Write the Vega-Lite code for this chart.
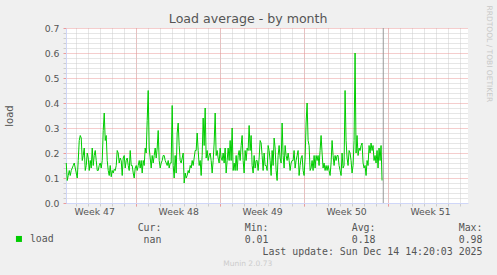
{
  "$schema": "https://vega.github.io/schema/vega-lite/v6.json",
  "width": 402,
  "height": 175,
  "autosize": "none",
  "padding": {"left": 66, "top": 28, "right": 29, "bottom": 72},
  "background": "#f0f0f0",
  "view": {"fill": "#ffffff", "stroke": null},
  "config": {"font": "DejaVu Sans", "axis": {"labelFlush": false, "labelOverlap": false}},
  "title": {"text": "Munin 2.0.73", "orient": "bottom", "anchor": "middle", "frame": "group", "fontSize": 7.5, "color": "#cccccc", "fontWeight": "normal", "font": "DejaVu Sans", "dx": -19.3, "offset": 4},
  "datasets": {
    "loadavg": [
      {"t": "2025-11-18T04:00", "v": 0.16}, {"t": "2025-11-18T06:00", "v": 0.09}, {"t": "2025-11-18T08:00", "v": 0.11}, {"t": "2025-11-18T10:00", "v": 0.13}, {"t": "2025-11-18T12:00", "v": 0.11}, {"t": "2025-11-18T14:00", "v": 0.13}, {"t": "2025-11-18T16:00", "v": 0.14}, {"t": "2025-11-18T18:00", "v": 0.15}, {"t": "2025-11-18T20:00", "v": 0.16}, {"t": "2025-11-18T22:00", "v": 0.14},
      {"t": "2025-11-19T00:00", "v": 0.12}, {"t": "2025-11-19T02:00", "v": 0.10}, {"t": "2025-11-19T04:00", "v": 0.17}, {"t": "2025-11-19T06:00", "v": 0.25}, {"t": "2025-11-19T08:00", "v": 0.27}, {"t": "2025-11-19T10:00", "v": 0.26}, {"t": "2025-11-19T12:00", "v": 0.17}, {"t": "2025-11-19T14:00", "v": 0.19}, {"t": "2025-11-19T16:00", "v": 0.22}, {"t": "2025-11-19T18:00", "v": 0.13}, {"t": "2025-11-19T20:00", "v": 0.15}, {"t": "2025-11-19T22:00", "v": 0.20},
      {"t": "2025-11-20T00:00", "v": 0.18}, {"t": "2025-11-20T02:00", "v": 0.13}, {"t": "2025-11-20T04:00", "v": 0.17}, {"t": "2025-11-20T06:00", "v": 0.14}, {"t": "2025-11-20T08:00", "v": 0.22}, {"t": "2025-11-20T10:00", "v": 0.15}, {"t": "2025-11-20T12:00", "v": 0.19}, {"t": "2025-11-20T14:00", "v": 0.21}, {"t": "2025-11-20T16:00", "v": 0.17}, {"t": "2025-11-20T18:00", "v": 0.13}, {"t": "2025-11-20T20:00", "v": 0.13}, {"t": "2025-11-20T22:00", "v": 0.15},
      {"t": "2025-11-21T00:00", "v": 0.16}, {"t": "2025-11-21T02:00", "v": 0.14}, {"t": "2025-11-21T04:00", "v": 0.17}, {"t": "2025-11-21T06:00", "v": 0.29}, {"t": "2025-11-21T08:00", "v": 0.36}, {"t": "2025-11-21T10:00", "v": 0.25}, {"t": "2025-11-21T12:00", "v": 0.27}, {"t": "2025-11-21T14:00", "v": 0.17}, {"t": "2025-11-21T16:00", "v": 0.13}, {"t": "2025-11-21T18:00", "v": 0.11}, {"t": "2025-11-21T20:00", "v": 0.15}, {"t": "2025-11-21T22:00", "v": 0.105},
      {"t": "2025-11-22T00:00", "v": 0.13}, {"t": "2025-11-22T02:00", "v": 0.12}, {"t": "2025-11-22T04:00", "v": 0.135}, {"t": "2025-11-22T06:00", "v": 0.13}, {"t": "2025-11-22T08:00", "v": 0.15}, {"t": "2025-11-22T10:00", "v": 0.21}, {"t": "2025-11-22T12:00", "v": 0.20}, {"t": "2025-11-22T14:00", "v": 0.16}, {"t": "2025-11-22T16:00", "v": 0.18}, {"t": "2025-11-22T18:00", "v": 0.17}, {"t": "2025-11-22T20:00", "v": 0.11}, {"t": "2025-11-22T22:00", "v": 0.18},
      {"t": "2025-11-23T00:00", "v": 0.19}, {"t": "2025-11-23T02:00", "v": 0.14}, {"t": "2025-11-23T04:00", "v": 0.17}, {"t": "2025-11-23T06:00", "v": 0.18}, {"t": "2025-11-23T08:00", "v": 0.15}, {"t": "2025-11-23T10:00", "v": 0.13}, {"t": "2025-11-23T12:00", "v": 0.21}, {"t": "2025-11-23T14:00", "v": 0.15}, {"t": "2025-11-23T16:00", "v": 0.15}, {"t": "2025-11-23T18:00", "v": 0.12}, {"t": "2025-11-23T20:00", "v": 0.10}, {"t": "2025-11-23T22:00", "v": 0.14},
      {"t": "2025-11-24T00:00", "v": 0.15}, {"t": "2025-11-24T02:00", "v": 0.13}, {"t": "2025-11-24T04:00", "v": 0.15}, {"t": "2025-11-24T06:00", "v": 0.17}, {"t": "2025-11-24T08:00", "v": 0.14}, {"t": "2025-11-24T10:00", "v": 0.17}, {"t": "2025-11-24T12:00", "v": 0.12}, {"t": "2025-11-24T14:00", "v": 0.17}, {"t": "2025-11-24T16:00", "v": 0.15}, {"t": "2025-11-24T18:00", "v": 0.22}, {"t": "2025-11-24T20:00", "v": 0.20}, {"t": "2025-11-24T22:00", "v": 0.33},
      {"t": "2025-11-25T00:00", "v": 0.45}, {"t": "2025-11-25T02:00", "v": 0.22}, {"t": "2025-11-25T04:00", "v": 0.18}, {"t": "2025-11-25T06:00", "v": 0.14}, {"t": "2025-11-25T08:00", "v": 0.19}, {"t": "2025-11-25T10:00", "v": 0.16}, {"t": "2025-11-25T12:00", "v": 0.19}, {"t": "2025-11-25T14:00", "v": 0.22}, {"t": "2025-11-25T16:00", "v": 0.18}, {"t": "2025-11-25T18:00", "v": 0.22}, {"t": "2025-11-25T20:00", "v": 0.29}, {"t": "2025-11-25T22:00", "v": 0.17},
      {"t": "2025-11-26T00:00", "v": 0.14}, {"t": "2025-11-26T02:00", "v": 0.16}, {"t": "2025-11-26T04:00", "v": 0.17}, {"t": "2025-11-26T06:00", "v": 0.19}, {"t": "2025-11-26T08:00", "v": 0.19}, {"t": "2025-11-26T10:00", "v": 0.17}, {"t": "2025-11-26T12:00", "v": 0.16}, {"t": "2025-11-26T14:00", "v": 0.15}, {"t": "2025-11-26T16:00", "v": 0.17}, {"t": "2025-11-26T18:00", "v": 0.14}, {"t": "2025-11-26T20:00", "v": 0.16}, {"t": "2025-11-26T22:00", "v": 0.16},
      {"t": "2025-11-27T00:00", "v": 0.39}, {"t": "2025-11-27T02:00", "v": 0.15}, {"t": "2025-11-27T04:00", "v": 0.10}, {"t": "2025-11-27T06:00", "v": 0.19}, {"t": "2025-11-27T08:00", "v": 0.12}, {"t": "2025-11-27T10:00", "v": 0.28}, {"t": "2025-11-27T12:00", "v": 0.32}, {"t": "2025-11-27T14:00", "v": 0.23}, {"t": "2025-11-27T16:00", "v": 0.17}, {"t": "2025-11-27T18:00", "v": 0.16}, {"t": "2025-11-27T20:00", "v": 0.18}, {"t": "2025-11-27T22:00", "v": 0.20},
      {"t": "2025-11-28T00:00", "v": 0.08}, {"t": "2025-11-28T02:00", "v": 0.12}, {"t": "2025-11-28T04:00", "v": 0.10}, {"t": "2025-11-28T06:00", "v": 0.11}, {"t": "2025-11-28T08:00", "v": 0.13}, {"t": "2025-11-28T10:00", "v": 0.12}, {"t": "2025-11-28T12:00", "v": 0.15}, {"t": "2025-11-28T14:00", "v": 0.14}, {"t": "2025-11-28T16:00", "v": 0.17}, {"t": "2025-11-28T18:00", "v": 0.15}, {"t": "2025-11-28T20:00", "v": 0.18}, {"t": "2025-11-28T22:00", "v": 0.21},
      {"t": "2025-11-29T00:00", "v": 0.21}, {"t": "2025-11-29T02:00", "v": 0.28}, {"t": "2025-11-29T04:00", "v": 0.21}, {"t": "2025-11-29T06:00", "v": 0.15}, {"t": "2025-11-29T08:00", "v": 0.17}, {"t": "2025-11-29T10:00", "v": 0.11}, {"t": "2025-11-29T12:00", "v": 0.19}, {"t": "2025-11-29T14:00", "v": 0.34}, {"t": "2025-11-29T16:00", "v": 0.23}, {"t": "2025-11-29T18:00", "v": 0.38}, {"t": "2025-11-29T20:00", "v": 0.18}, {"t": "2025-11-29T22:00", "v": 0.21},
      {"t": "2025-11-30T00:00", "v": 0.17}, {"t": "2025-11-30T02:00", "v": 0.19}, {"t": "2025-11-30T04:00", "v": 0.20}, {"t": "2025-11-30T06:00", "v": 0.17}, {"t": "2025-11-30T08:00", "v": 0.12}, {"t": "2025-11-30T10:00", "v": 0.17}, {"t": "2025-11-30T12:00", "v": 0.24}, {"t": "2025-11-30T14:00", "v": 0.36}, {"t": "2025-11-30T16:00", "v": 0.19}, {"t": "2025-11-30T18:00", "v": 0.21}, {"t": "2025-11-30T20:00", "v": 0.18}, {"t": "2025-11-30T22:00", "v": 0.16},
      {"t": "2025-12-01T00:00", "v": 0.22}, {"t": "2025-12-01T02:00", "v": 0.18}, {"t": "2025-12-01T04:00", "v": 0.17}, {"t": "2025-12-01T06:00", "v": 0.20}, {"t": "2025-12-01T08:00", "v": 0.16}, {"t": "2025-12-01T10:00", "v": 0.22}, {"t": "2025-12-01T12:00", "v": 0.12}, {"t": "2025-12-01T14:00", "v": 0.17}, {"t": "2025-12-01T16:00", "v": 0.22}, {"t": "2025-12-01T18:00", "v": 0.17}, {"t": "2025-12-01T20:00", "v": 0.25}, {"t": "2025-12-01T22:00", "v": 0.17},
      {"t": "2025-12-02T00:00", "v": 0.30}, {"t": "2025-12-02T02:00", "v": 0.13}, {"t": "2025-12-02T04:00", "v": 0.16}, {"t": "2025-12-02T06:00", "v": 0.13}, {"t": "2025-12-02T08:00", "v": 0.19}, {"t": "2025-12-02T10:00", "v": 0.13}, {"t": "2025-12-02T12:00", "v": 0.19}, {"t": "2025-12-02T14:00", "v": 0.21}, {"t": "2025-12-02T16:00", "v": 0.17}, {"t": "2025-12-02T18:00", "v": 0.23}, {"t": "2025-12-02T20:00", "v": 0.27}, {"t": "2025-12-02T22:00", "v": 0.17},
      {"t": "2025-12-03T00:00", "v": 0.12}, {"t": "2025-12-03T02:00", "v": 0.21}, {"t": "2025-12-03T04:00", "v": 0.17}, {"t": "2025-12-03T06:00", "v": 0.22}, {"t": "2025-12-03T08:00", "v": 0.21}, {"t": "2025-12-03T10:00", "v": 0.31}, {"t": "2025-12-03T12:00", "v": 0.21}, {"t": "2025-12-03T14:00", "v": 0.27}, {"t": "2025-12-03T16:00", "v": 0.15}, {"t": "2025-12-03T18:00", "v": 0.12}, {"t": "2025-12-03T20:00", "v": 0.19}, {"t": "2025-12-03T22:00", "v": 0.14},
      {"t": "2025-12-04T00:00", "v": 0.17}, {"t": "2025-12-04T02:00", "v": 0.17}, {"t": "2025-12-04T04:00", "v": 0.13}, {"t": "2025-12-04T06:00", "v": 0.18}, {"t": "2025-12-04T08:00", "v": 0.25}, {"t": "2025-12-04T10:00", "v": 0.24}, {"t": "2025-12-04T12:00", "v": 0.19}, {"t": "2025-12-04T14:00", "v": 0.13}, {"t": "2025-12-04T16:00", "v": 0.20}, {"t": "2025-12-04T18:00", "v": 0.15}, {"t": "2025-12-04T20:00", "v": 0.15}, {"t": "2025-12-04T22:00", "v": 0.13},
      {"t": "2025-12-05T00:00", "v": 0.23}, {"t": "2025-12-05T02:00", "v": 0.21}, {"t": "2025-12-05T04:00", "v": 0.17}, {"t": "2025-12-05T06:00", "v": 0.11}, {"t": "2025-12-05T08:00", "v": 0.21}, {"t": "2025-12-05T10:00", "v": 0.15}, {"t": "2025-12-05T12:00", "v": 0.26}, {"t": "2025-12-05T14:00", "v": 0.22}, {"t": "2025-12-05T16:00", "v": 0.13}, {"t": "2025-12-05T18:00", "v": 0.09}, {"t": "2025-12-05T20:00", "v": 0.19}, {"t": "2025-12-05T22:00", "v": 0.23},
      {"t": "2025-12-06T00:00", "v": 0.18}, {"t": "2025-12-06T02:00", "v": 0.16}, {"t": "2025-12-06T04:00", "v": 0.32}, {"t": "2025-12-06T06:00", "v": 0.19}, {"t": "2025-12-06T08:00", "v": 0.14}, {"t": "2025-12-06T10:00", "v": 0.23}, {"t": "2025-12-06T12:00", "v": 0.19}, {"t": "2025-12-06T14:00", "v": 0.17}, {"t": "2025-12-06T16:00", "v": 0.20}, {"t": "2025-12-06T18:00", "v": 0.17}, {"t": "2025-12-06T20:00", "v": 0.13}, {"t": "2025-12-06T22:00", "v": 0.16},
      {"t": "2025-12-07T00:00", "v": 0.17}, {"t": "2025-12-07T02:00", "v": 0.17}, {"t": "2025-12-07T04:00", "v": 0.21}, {"t": "2025-12-07T06:00", "v": 0.14}, {"t": "2025-12-07T08:00", "v": 0.17}, {"t": "2025-12-07T10:00", "v": 0.19}, {"t": "2025-12-07T12:00", "v": 0.21}, {"t": "2025-12-07T14:00", "v": 0.11}, {"t": "2025-12-07T16:00", "v": 0.15}, {"t": "2025-12-07T18:00", "v": 0.18}, {"t": "2025-12-07T20:00", "v": 0.19}, {"t": "2025-12-07T22:00", "v": 0.13},
      {"t": "2025-12-08T00:00", "v": 0.11}, {"t": "2025-12-08T02:00", "v": 0.18}, {"t": "2025-12-08T04:00", "v": 0.32}, {"t": "2025-12-08T06:00", "v": 0.40}, {"t": "2025-12-08T08:00", "v": 0.25}, {"t": "2025-12-08T10:00", "v": 0.23}, {"t": "2025-12-08T12:00", "v": 0.13}, {"t": "2025-12-08T14:00", "v": 0.14}, {"t": "2025-12-08T16:00", "v": 0.17}, {"t": "2025-12-08T18:00", "v": 0.13}, {"t": "2025-12-08T20:00", "v": 0.19}, {"t": "2025-12-08T22:00", "v": 0.14},
      {"t": "2025-12-09T00:00", "v": 0.19}, {"t": "2025-12-09T02:00", "v": 0.17}, {"t": "2025-12-09T04:00", "v": 0.19}, {"t": "2025-12-09T06:00", "v": 0.15}, {"t": "2025-12-09T08:00", "v": 0.21}, {"t": "2025-12-09T10:00", "v": 0.27}, {"t": "2025-12-09T12:00", "v": 0.20}, {"t": "2025-12-09T14:00", "v": 0.14}, {"t": "2025-12-09T16:00", "v": 0.16}, {"t": "2025-12-09T18:00", "v": 0.13}, {"t": "2025-12-09T20:00", "v": 0.15}, {"t": "2025-12-09T22:00", "v": 0.13},
      {"t": "2025-12-10T00:00", "v": 0.15}, {"t": "2025-12-10T02:00", "v": 0.13}, {"t": "2025-12-10T04:00", "v": 0.11}, {"t": "2025-12-10T06:00", "v": 0.16}, {"t": "2025-12-10T08:00", "v": 0.25}, {"t": "2025-12-10T10:00", "v": 0.19}, {"t": "2025-12-10T12:00", "v": 0.15}, {"t": "2025-12-10T14:00", "v": 0.19}, {"t": "2025-12-10T16:00", "v": 0.17}, {"t": "2025-12-10T18:00", "v": 0.19}, {"t": "2025-12-10T20:00", "v": 0.19}, {"t": "2025-12-10T22:00", "v": 0.15},
      {"t": "2025-12-11T00:00", "v": 0.13}, {"t": "2025-12-11T02:00", "v": 0.11}, {"t": "2025-12-11T04:00", "v": 0.20}, {"t": "2025-12-11T06:00", "v": 0.14}, {"t": "2025-12-11T08:00", "v": 0.15}, {"t": "2025-12-11T10:00", "v": 0.45}, {"t": "2025-12-11T12:00", "v": 0.25}, {"t": "2025-12-11T14:00", "v": 0.18}, {"t": "2025-12-11T16:00", "v": 0.15}, {"t": "2025-12-11T18:00", "v": 0.21}, {"t": "2025-12-11T20:00", "v": 0.20}, {"t": "2025-12-11T22:00", "v": 0.17},
      {"t": "2025-12-12T00:00", "v": 0.12}, {"t": "2025-12-12T02:00", "v": 0.15}, {"t": "2025-12-12T04:00", "v": 0.25}, {"t": "2025-12-12T06:00", "v": 0.60}, {"t": "2025-12-12T08:00", "v": 0.20}, {"t": "2025-12-12T10:00", "v": 0.27}, {"t": "2025-12-12T12:00", "v": 0.19}, {"t": "2025-12-12T14:00", "v": 0.22}, {"t": "2025-12-12T16:00", "v": 0.21}, {"t": "2025-12-12T18:00", "v": 0.23}, {"t": "2025-12-12T20:00", "v": 0.24}, {"t": "2025-12-12T22:00", "v": 0.16},
      {"t": "2025-12-13T00:00", "v": 0.14}, {"t": "2025-12-13T02:00", "v": 0.15}, {"t": "2025-12-13T04:00", "v": 0.11}, {"t": "2025-12-13T06:00", "v": 0.17}, {"t": "2025-12-13T08:00", "v": 0.15}, {"t": "2025-12-13T10:00", "v": 0.23}, {"t": "2025-12-13T12:00", "v": 0.20}, {"t": "2025-12-13T14:00", "v": 0.24}, {"t": "2025-12-13T16:00", "v": 0.21}, {"t": "2025-12-13T18:00", "v": 0.23}, {"t": "2025-12-13T20:00", "v": 0.17}, {"t": "2025-12-13T22:00", "v": 0.19},
      {"t": "2025-12-14T00:00", "v": 0.16}, {"t": "2025-12-14T02:00", "v": 0.21}, {"t": "2025-12-14T04:00", "v": 0.14}, {"t": "2025-12-14T06:00", "v": 0.22}, {"t": "2025-12-14T08:00", "v": 0.17}, {"t": "2025-12-14T10:00", "v": 0.23}, {"t": "2025-12-14T12:00", "v": 0.09}
    ],
    "now": [{"t": "2025-12-14T14:24"}]
  },
  "resolve": {"axis": {"x": "independent", "y": "independent"}},
  "layer": [
    {
      "data": {"name": "loadavg"},
      "mark": {"type": "line", "strokeOpacity": 0},
      "encoding": {
        "x": {
          "field": "t", "type": "temporal",
          "scale": {"domain": [{"year": 2025, "month": "nov", "date": 18, "hours": 3, "minutes": 30}, {"year": 2025, "month": "dec", "date": 21, "hours": 16}], "nice": false},
          "axis": {
            "orient": "bottom", "tickCount": {"interval": "day", "step": 1},
            "grid": true, "gridColor": "#cccccc", "gridDash": [1, 1],
            "labels": false, "ticks": true, "tickSize": 3, "tickColor": "#cccccc", "domain": false,
            "title": "Load average - by month", "titleFont": "DejaVu Sans", "titleFontSize": 12.6, "titleFontWeight": "normal", "titleColor": "#555555",
            "titleX": 181.7, "titleY": -180.8, "titleAlign": "center", "titleBaseline": "alphabetic", "titleAngle": 0
          }
        },
        "y": {
          "field": "v", "type": "quantitative",
          "scale": {"domain": [0, 0.7], "nice": false, "zero": true},
          "axis": {
            "orient": "left",
            "values": [0.02, 0.04, 0.06, 0.08, 0.12, 0.14, 0.16, 0.18, 0.22, 0.24, 0.26, 0.28, 0.32, 0.34, 0.36, 0.38, 0.42, 0.44, 0.46, 0.48, 0.52, 0.54, 0.56, 0.58, 0.62, 0.64, 0.66, 0.68],
            "grid": true, "gridColor": "#cccccc", "gridDash": [1, 1],
            "labels": false, "ticks": true, "tickSize": 3, "tickColor": "#cccccc", "domain": false,
            "title": "RRDTOOL / TOBI OETIKER", "titleFont": "DejaVu Sans", "titleFontSize": 7.5, "titleFontWeight": "normal", "titleColor": "#c8c8c8",
            "titleAngle": 90, "titleX": 422, "titleY": -23, "titleAlign": "left", "titleBaseline": "middle"
          }
        }
      }
    },
    {
      "data": {"name": "loadavg"},
      "mark": {"type": "line", "strokeWidth": 1, "interpolate": "linear"},
      "encoding": {
        "x": {
          "field": "t", "type": "temporal",
          "scale": {"domain": [{"year": 2025, "month": "nov", "date": 18, "hours": 3, "minutes": 30}, {"year": 2025, "month": "dec", "date": 21, "hours": 16}], "nice": false},
          "axis": {
            "orient": "bottom",
            "values": [{"year": 2025, "month": "nov", "date": 24}, {"year": 2025, "month": "dec", "date": 1}, {"year": 2025, "month": "dec", "date": 8}, {"year": 2025, "month": "dec", "date": 15}],
            "grid": true, "gridColor": "#eb9a9a", "gridDash": [1, 1],
            "labels": false, "ticks": true, "tickSize": 3, "tickColor": "#eb9a9a",
            "domain": true, "domainColor": "#cfd6f8", "title": null
          }
        },
        "y": {
          "field": "v", "type": "quantitative",
          "scale": {"domain": [0, 0.7], "nice": false, "zero": true},
          "axis": {
            "orient": "left",
            "values": [0, 0.1, 0.2, 0.3, 0.4, 0.5, 0.6, 0.7], "format": ".1f",
            "grid": true, "gridColor": "#eb9a9a", "gridDash": [1, 1],
            "ticks": true, "tickSize": 3, "tickColor": "#eb9a9a",
            "labels": true, "labelFont": "DejaVu Sans", "labelFontSize": 9.3, "labelColor": "#555555", "labelPadding": 4,
            "domain": true, "domainColor": "#cfd6f8",
            "title": "load", "titleFont": "DejaVu Sans", "titleFontSize": 10, "titleFontWeight": "normal", "titleColor": "#555555",
            "titleAngle": 270, "titleX": -56.3, "titleY": 87.5, "titleAlign": "center", "titleBaseline": "middle"
          }
        },
        "color": {
          "datum": "load",
          "scale": {"domain": ["load"], "range": ["#00cc00"]},
          "legend": {
            "orient": "none", "legendX": -52, "legendY": 206, "padding": 0, "title": null,
            "symbolType": "square", "symbolSize": 36, "symbolFillColor": "#00cc00", "symbolStrokeWidth": 0,
            "labelFont": "DejaVu Sans Mono", "labelFontSize": 9.9, "labelColor": "#555555", "labelOffset": 6,
            "encode": {"symbols": {"update": {"fill": {"value": "#00cc00"}, "stroke": {"value": "transparent"}}}}
          }
        }
      }
    },
    {
      "data": {"name": "now"},
      "mark": {"type": "rule", "color": "#999999", "strokeWidth": 1},
      "encoding": {
        "x": {
          "field": "t", "type": "temporal",
          "scale": {"domain": [{"year": 2025, "month": "nov", "date": 18, "hours": 3, "minutes": 30}, {"year": 2025, "month": "dec", "date": 21, "hours": 16}], "nice": false},
          "axis": {
            "orient": "bottom",
            "values": [{"year": 2025, "month": "nov", "date": 20, "hours": 12}, {"year": 2025, "month": "nov", "date": 27, "hours": 12}, {"year": 2025, "month": "dec", "date": 4, "hours": 12}, {"year": 2025, "month": "dec", "date": 11, "hours": 12}, {"year": 2025, "month": "dec", "date": 18, "hours": 12}],
            "labelExpr": "'Week ' + timeFormat(datum.value, '%V')",
            "grid": false, "ticks": false, "domain": false,
            "labels": true, "labelFont": "DejaVu Sans", "labelFontSize": 9.3, "labelColor": "#555555", "labelPadding": 4, "labelAngle": 0,
            "title": [
              "Cur:\u00a0\u00a0\u00a0\u00a0\u00a0\u00a0\u00a0\u00a0\u00a0\u00a0\u00a0\u00a0\u00a0\u00a0Min:\u00a0\u00a0\u00a0\u00a0\u00a0\u00a0\u00a0\u00a0\u00a0\u00a0\u00a0\u00a0\u00a0\u00a0Avg:\u00a0\u00a0\u00a0\u00a0\u00a0\u00a0\u00a0\u00a0\u00a0\u00a0\u00a0\u00a0\u00a0\u00a0Max:\u00a0\u00a0",
              "nan\u00a0\u00a0\u00a0\u00a0\u00a0\u00a0\u00a0\u00a0\u00a0\u00a0\u00a0\u00a0\u00a0\u00a00.01\u00a0\u00a0\u00a0\u00a0\u00a0\u00a0\u00a0\u00a0\u00a0\u00a0\u00a0\u00a0\u00a0\u00a00.18\u00a0\u00a0\u00a0\u00a0\u00a0\u00a0\u00a0\u00a0\u00a0\u00a0\u00a0\u00a0\u00a0\u00a00.98",
              "Last update: Sun Dec 14 14:20:03 2025"
            ],
            "titleFont": "DejaVu Sans Mono", "titleFontSize": 9.9, "titleFontWeight": "normal", "titleColor": "#555555", "titleLineHeight": 11.7,
            "titleX": 416, "titleY": 27.7, "titleAlign": "right", "titleBaseline": "alphabetic", "titleAngle": 0
          }
        }
      }
    }
  ]
}
